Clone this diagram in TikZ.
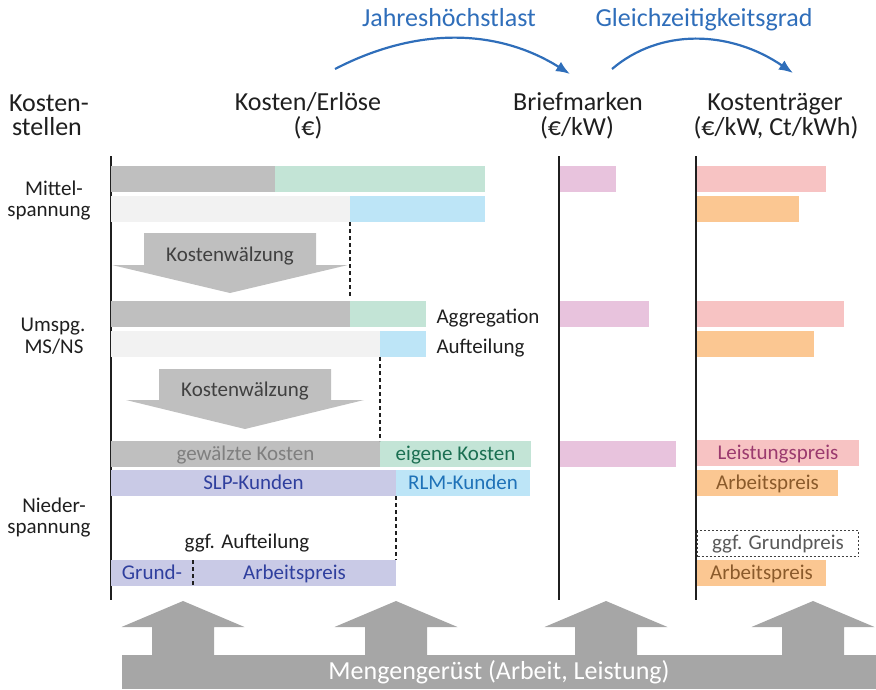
\documentclass[tikz,border=0pt]{standalone}
\usepackage{fontspec}
\setmainfont{Carlito}
\usetikzlibrary{arrows.meta}

\definecolor{barGray}{HTML}{BFBFBF}
\definecolor{barLight}{HTML}{F2F2F2}
\definecolor{barGreen}{HTML}{C3E4D6}
\definecolor{barBlue}{HTML}{BDE5F7}
\definecolor{barLav}{HTML}{C9CAE6}
\definecolor{barPink}{HTML}{E8C3DD}
\definecolor{barRose}{HTML}{F7C3C3}
\definecolor{barOrange}{HTML}{FBC792}
\definecolor{arrGray}{HTML}{A6A6A6}
\definecolor{txtDark}{HTML}{1F1F1F}
\definecolor{txtMid}{HTML}{404040}
\definecolor{txtGrey}{HTML}{7F7F7F}
\definecolor{txtGrey2}{HTML}{595959}
\definecolor{txtBlue}{HTML}{2F6EBA}
\definecolor{txtGreen}{HTML}{1B6F52}
\definecolor{txtNavy}{HTML}{2F3F9E}
\definecolor{txtSky}{HTML}{1F72B8}
\definecolor{txtPlum}{HTML}{9B3A6E}
\definecolor{txtBrown}{HTML}{8A5A2B}

\begin{document}
\begin{tikzpicture}[x=1pt, y=-1pt,
        bar/.style={anchor=north west, inner sep=0pt, outer sep=0pt, minimum height=26pt, text height=15pt, text depth=3pt,
            font=\fontsize{21}{24}\selectfont},
        head/.style={anchor=base, text=txtDark, font=\fontsize{26}{30}\selectfont},
        row/.style={anchor=base, text=txtDark, font=\fontsize{21}{24}\selectfont},
        axis/.style={line width=2pt, txtDark},
        split/.style={line width=1.3pt, dash pattern=on 4pt off 3pt, txtDark}]
    \useasboundingbox (0,0) rectangle (876,689);

    % column heads
    \node[head] (kstH1) at (49,111)  {Kosten-};
    \node[head] (kstH2) at (47,135)  {stellen};
    \node[head] (keH1)  at (308,110) {Kosten/Erlöse};
    \node[head] (keH2)  at (308,135) {(€)};
    \node[head] (bmH1)  at (578,110) {Briefmarken};
    \node[head] (bmH2)  at (577,135) {(€/kW)};
    \node[head] (ktH1)  at (775,110) {Kostenträger};
    \node[head] (ktH2)  at (776,135) {(€/kW, Ct/kWh)};

    % row heads
    \node[row] (mvL1) at (54,195) {Mittel-};
    \node[row] (mvL2) at (49,216) {spannung};
    \node[row] (usL1) at (53,331) {Umspg.};
    \node[row] (usL2) at (54,353) {MS/NS};
    \node[row] (nvL1) at (54,512) {Nieder-};
    \node[row] (nvL2) at (49,533) {spannung};

    % axes
    \draw[axis] (111,156) -- (111,600);
    \draw[axis] (559,156) -- (559,600);
    \draw[axis] (696,156) -- (696,600);

    % Kostenwaelzung
    \fill[barGray] (144,233) -- (316,233) -- (316,265) -- (348,265) -- (230,293) -- (112,265) -- (144,265) -- cycle;
    \node[row, text=txtMid] (kw1) at (230,261) {Kostenwälzung};
    \fill[barGray] (159,369) -- (331,369) -- (331,400) -- (364,400) -- (245,429) -- (126,400) -- (159,400) -- cycle;
    \node[row, text=txtMid] (kw2) at (245,396) {Kostenwälzung};

    % Mittelspannung
    \node[bar, fill=barGray, minimum width=164pt]  (msGray)  at (111,166) {};
    \node[bar, fill=barGreen, minimum width=210pt] (msGreen) at (msGray.north east) {};
    \node[bar, fill=barLight, minimum width=239pt] (msLight) at (111,196) {};
    \node[bar, fill=barBlue, minimum width=135pt]  (msBlue)  at (msLight.north east) {};

    % Umspannung
    \node[bar, fill=barGray, minimum width=239pt]  (usGray)  at (111,301) {};
    \node[bar, fill=barGreen, minimum width=76pt]  (usGreen) at (usGray.north east) {};
    \node[bar, fill=barLight, minimum width=269pt] (usLight) at (111,331) {};
    \node[bar, fill=barBlue, minimum width=46pt]   (usBlue)  at (usLight.north east) {};
    \node[row, anchor=base west] (aggr)    at (433,323) {Aggregation};
    \node[row, anchor=base west] (aufteil) at (433,353) {Aufteilung};

    % Niederspannung
    \node[bar, fill=barGray, text=txtGrey, minimum width=269pt]   (nsGray)  at (111,441) {gewälzte Kosten};
    \node[bar, fill=barGreen, text=txtGreen, minimum width=151pt] (nsGreen) at (nsGray.north east) {eigene Kosten};
    \node[bar, fill=barLav, text=txtNavy, minimum width=285pt]    (nsSlp)   at (111,470) {SLP-Kunden};
    \node[bar, fill=barBlue, text=txtSky, minimum width=134pt]    (nsRlm)   at (nsSlp.north east) {RLM-Kunden};
    \node[row] (ggfAuf) at (247,548) {ggf. Aufteilung};
    \node[bar, fill=barLav, text=txtNavy, minimum width=82pt]     (nsGrund)  at (111,560) {Grund-};
    \node[bar, fill=barLav, text=txtNavy, minimum width=203pt]    (nsArbeit) at (nsGrund.north east) {Arbeitspreis};

    \draw[split, shorten >=4pt] (msBlue.south west) -- (usGreen.north west);
    \draw[split] (usBlue.south west) -- (nsGreen.north west);
    \draw[split] (nsRlm.south west) -- (nsArbeit.north east);
    \draw[split] (nsGrund.north east) -- (nsGrund.south east);

    % Briefmarken
    \node[bar, fill=barPink, minimum width=56pt]  (bmMs) at (560,166) {};
    \node[bar, fill=barPink, minimum width=89pt]  (bmUs) at (560,301) {};
    \node[bar, fill=barPink, minimum width=116pt] (bmNs) at (560,441) {};

    % Kostentraeger
    \node[bar, fill=barRose, minimum width=129pt]   (ktMsLp) at (697,166) {};
    \node[bar, fill=barOrange, minimum width=102pt] (ktMsAp) at (697,196) {};
    \node[bar, fill=barRose, minimum width=147pt]   (ktUsLp) at (697,301) {};
    \node[bar, fill=barOrange, minimum width=117pt] (ktUsAp) at (697,331) {};
    \node[bar, fill=barRose, text=txtPlum, minimum width=162pt]    (ktNsLp) at (697,440) {Leistungspreis};
    \node[bar, fill=barOrange, text=txtBrown, minimum width=141pt] (ktNsAp) at (697,470) {Arbeitspreis};
    \node[bar, draw=txtMid, line width=1pt, dash pattern=on 2pt off 2pt, text=txtGrey2, minimum width=161pt]
        (ktGp) at (697.5,530.5) {ggf. Grundpreis};
    \node[bar, fill=barOrange, text=txtBrown, minimum width=129pt] (ktSlpAp) at (697,560) {Arbeitspreis};

    % Mengengeruest
    \foreach \cx in {183,396,606,813}
        \fill[arrGray] (\cx-31,655) -- (\cx-31,627) -- (\cx-61.5,627) -- (\cx,601)
            -- (\cx+61.5,627) -- (\cx+31,627) -- (\cx+31,655) -- cycle;
    \node[anchor=north west, fill=arrGray, inner sep=0pt, outer sep=0pt, minimum width=754pt, minimum height=34pt,
        text=white, font=\fontsize{26}{30}\selectfont] (mengen) at (122,655) {Mengengerüst (Arbeit, Leistung)};

    % Umrechnung
    \node[head, text=txtBlue] (jhl) at (449,26) {Jahreshöchstlast};
    \node[head, text=txtBlue] (gzg) at (704,26) {Gleichzeitigkeitsgrad};
    \coordinate (jhlStart) at (335,69);
    \coordinate (jhlEnd)   at (570,74);
    \coordinate (gzgStart) at (612,69);
    \coordinate (gzgEnd)   at (793,73);

    \begin{scope}[->, >={Latex[length=14pt, width=11pt]}, line width=2.2pt, txtBlue]
        \draw (jhlStart) .. controls (420,25) and (500,30) .. (jhlEnd);
        \draw (gzgStart) .. controls (660,28) and (730,30) .. (gzgEnd);
    \end{scope}
\end{tikzpicture}
\end{document}
